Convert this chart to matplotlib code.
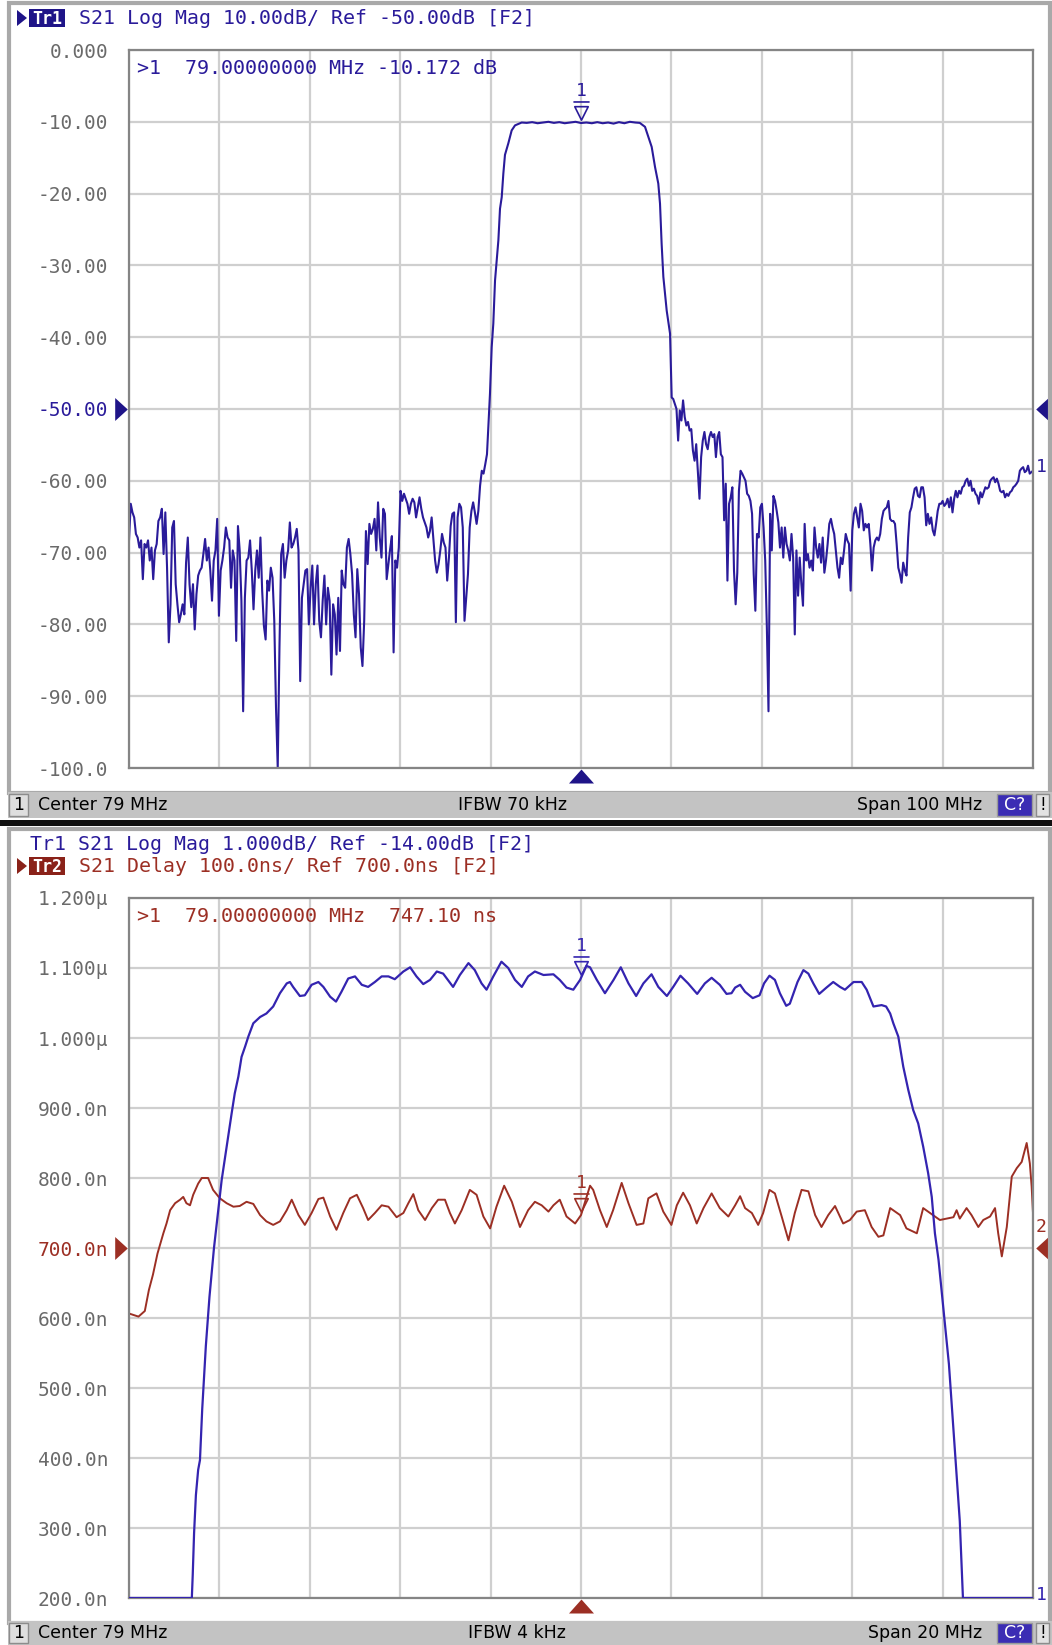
import numpy as np
import matplotlib.pyplot as plt
from matplotlib.patches import Rectangle, Polygon
from matplotlib.path import Path
from matplotlib.transforms import blended_transform_factory as blend

W, H = 1052, 1645
BLUE = '#2a1b9a'
RED = '#9c2f24'
GRID = '#cfcfcf'
LBL = '#6a6a6a'
MONO = 'DejaVu Sans Mono'
NARROW = ['Liberation Sans Narrow', 'DejaVu Sans']

# ---------------- upper panel: S21 Log Mag, center 79 MHz, span 100 MHz
top_lo_stop_db = [
    -68.3, -63.2, -64.4, -65.1, -67.4, -67.9, -69.3, -68.3, -73.7, -68.8,
    -69.3, -68.3, -71.1, -69.3, -73.7, -69.7, -68.8, -65.6, -65.1, -63.9,
    -70.2, -64.4, -72.1, -82.5, -77.2, -66.5, -65.6, -74.4, -77.2, -79.7,
    -78.6, -77.2, -78.6, -71.4, -67.9, -74.4, -77.6, -74.4, -80.7, -75.8,
    -73.2, -72.5, -72.1, -70.2, -68.1, -71.1, -69.3, -72.5, -76.7, -71.1,
    -69.7, -65.3, -78.8, -72.5, -71.1, -69.3, -66.5, -67.9, -68.3, -74.9,
    -69.7, -71.1, -82.3, -66.3, -69.7, -76.7, -92.1, -76.3, -71.1, -70.7,
    -68.3, -72.5, -77.9, -72.5, -69.7, -73.5, -67.9, -75.3, -80.2, -82.1,
    -73.9, -75.3, -72.1, -73.5, -79.5, -91.6, -100.0, -83.2, -70.2, -68.8,
    -73.5, -71.1, -69.7, -65.8, -69.3, -68.8, -67.9, -66.7, -69.7, -87.9,
    -76.3, -74.4, -72.5, -72.3, -80.0, -74.9, -71.8, -80.0, -74.4, -71.8,
    -79.5, -81.8, -76.7, -73.2, -80.0, -74.9, -76.7, -87.0, -77.2, -78.6,
    -84.2, -76.3, -83.7, -72.5, -74.4, -74.9, -69.3, -68.1, -70.2, -73.0,
    -78.6, -81.8, -72.3, -75.8, -83.2, -85.8, -79.5, -67.0, -71.6, -66.0,
    -67.4, -66.7, -65.3, -69.7, -63.0, -67.9, -70.7, -63.9, -64.6, -73.7,
    -71.6, -69.5, -67.7, -83.9, -71.1, -72.1, -69.3, -61.4, -62.8, -61.8,
    -62.5, -63.2, -64.6, -63.2, -62.5, -63.0, -65.1, -63.7, -62.3, -63.9,
    -65.1, -65.8, -66.5, -67.9, -67.0, -65.1, -68.1, -71.1, -72.8, -71.6,
    -69.7, -67.4, -68.6, -69.3, -73.9, -70.7, -66.3, -64.6, -64.4, -79.7,
    -65.1, -63.2, -63.7, -66.5, -79.5, -76.3, -73.0, -66.5, -64.2, -63.0,
    -64.4, -66.0, -64.2, -60.7, -58.6, -59.0, -57.7, -56.3]
top_lo_stop_f = np.linspace(29.0, 68.6, len(top_lo_stop_db))

top_pass = [
    (68.93, -47.9), (69.12, -41.4), (69.30, -38.1), (69.49, -32.1), (69.86, -26.5),
    (70.04, -22.1), (70.23, -20.5), (70.41, -17.2), (70.59, -14.6), (70.96, -13.0),
    (71.33, -11.2), (71.70, -10.5), (72.44, -10.1), (73.0, -10.15), (73.6, -10.05),
    (74.2, -10.2), (74.8, -10.1), (75.4, -10.0), (76.0, -10.15), (76.6, -10.05),
    (77.2, -10.2), (77.8, -10.1), (78.4, -10.0), (79.0, -10.17), (79.6, -10.1),
    (80.2, -10.2), (80.8, -10.05), (81.4, -10.2), (82.0, -10.1), (82.6, -10.25),
    (83.2, -10.05), (83.8, -10.2), (84.4, -10.0), (85.0, -10.1), (85.5, -10.15),
    (86.08, -10.7), (86.45, -12.1), (86.82, -13.5), (87.19, -16.3), (87.55, -18.6),
    (87.74, -21.4), (87.92, -27.0), (88.11, -31.6), (88.48, -36.3), (88.85, -39.5),
    (89.03, -48.4)]

top_hi_stop_db = [
    -48.6, -49.3, -50.0, -54.4, -50.2, -51.6, -48.8, -51.1, -52.3, -51.8,
    -53.0, -52.8, -55.8, -57.2, -54.9, -58.6, -62.5, -56.7, -54.4, -53.2,
    -54.9, -55.6, -53.9, -53.2, -53.9, -53.5, -56.7, -53.9, -53.2, -56.3,
    -56.7, -65.5, -60.4, -73.9, -63.2, -62.3, -60.9, -72.5, -77.2, -72.8,
    -61.4, -58.6, -59.0, -59.5, -60.0, -61.8, -62.1, -62.8, -64.6, -73.0,
    -78.1, -67.4, -67.9, -63.7, -63.2, -66.5, -71.1, -80.4, -92.1, -64.6,
    -69.7, -62.1, -62.8, -64.2, -65.8, -69.3, -66.5, -70.7, -66.5, -68.8,
    -69.7, -71.1, -67.4, -70.7, -81.4, -69.7, -76.0, -70.7, -74.4, -77.4,
    -66.0, -71.1, -70.2, -72.1, -71.1, -72.5, -66.5, -69.3, -70.7, -68.8,
    -71.4, -67.9, -72.8, -71.1, -68.8, -66.0, -65.3, -66.5, -67.4, -69.7,
    -72.1, -73.5, -70.7, -71.6, -69.7, -67.4, -68.3, -68.8, -75.3, -66.9,
    -64.6, -63.7, -65.1, -66.5, -63.2, -64.2, -66.9, -66.0, -66.5, -66.0,
    -68.8, -72.5, -69.3, -68.3, -67.9, -68.3, -67.4, -65.3, -64.2, -63.9,
    -63.7, -62.8, -65.3, -65.6, -65.6, -66.0, -68.8, -72.1, -73.0, -74.2,
    -71.4, -72.5, -73.2, -67.9, -64.4, -63.7, -62.3, -61.1, -60.9, -62.1,
    -62.3, -60.9, -60.9, -62.3, -66.2, -64.6, -66.0, -65.1, -66.9, -67.6,
    -66.0, -64.2, -63.2, -63.2, -62.8, -63.5, -63.2, -62.5, -63.7, -62.3,
    -64.4, -62.5, -61.4, -62.3, -61.4, -61.8, -60.9, -60.7, -60.0, -59.7,
    -60.7, -60.0, -61.4, -61.1, -61.8, -62.1, -63.2, -61.6, -62.3, -61.6,
    -60.9, -61.1, -60.9, -60.0, -59.7, -59.5, -60.2, -59.7, -60.4, -61.4,
    -61.6, -61.4, -62.3, -61.8, -62.1, -61.6, -61.4, -60.9, -60.7, -60.4,
    -60.0, -58.6, -58.3, -58.1, -58.8, -58.6, -57.9, -59.0, -58.8, -58.6]
top_hi_stop_f = np.linspace(89.2, 129.0, len(top_hi_stop_db))

top_yticks = [-100, -90, -80, -70, -60, -50, -40, -30, -20, -10, 0]
top_ylabels = ['-100.0', '-90.00', '-80.00', '-70.00', '-60.00', '-50.00',
               '-40.00', '-30.00', '-20.00', '-10.00', '0.000']

# ---------------- lower panel: Tr1 log mag (1 dB/div) + Tr2 delay (100 ns/div), span 20 MHz
bot_mag = [
    (69.0, -19.0), (70.39, -19.0), (70.41, -18.67), (70.44, -18.07), (70.48, -17.53),
    (70.53, -17.17), (70.57, -17.03), (70.62, -16.3), (70.70, -15.4), (70.78, -14.7),
    (70.88, -14.0), (71.05, -13.03), (71.16, -12.55), (71.27, -12.08), (71.34, -11.79),
    (71.42, -11.55), (71.49, -11.27), (71.57, -11.12), (71.64, -10.98), (71.75, -10.79),
    (71.90, -10.70), (72.04, -10.65), (72.19, -10.55), (72.34, -10.36), (72.49, -10.22),
    (72.56, -10.20), (72.63, -10.27), (72.78, -10.40), (72.89, -10.39), (73.04, -10.24),
    (73.19, -10.20), (73.30, -10.27), (73.45, -10.41), (73.58, -10.48), (73.70, -10.34),
    (73.85, -10.15), (74.00, -10.12), (74.15, -10.24), (74.29, -10.27), (74.44, -10.20),
    (74.59, -10.12), (74.74, -10.12), (74.88, -10.16), (75.07, -10.05), (75.22, -9.99),
    (75.36, -10.12), (75.51, -10.23), (75.66, -10.17), (75.81, -10.05), (75.95, -10.08),
    (76.17, -10.27), (76.32, -10.10), (76.51, -9.93), (76.65, -10.03), (76.80, -10.22),
    (76.91, -10.31), (77.06, -10.12), (77.24, -9.91), (77.39, -10.00), (77.54, -10.17),
    (77.69, -10.27), (77.83, -10.12), (77.98, -10.05), (78.17, -10.10), (78.39, -10.09),
    (78.53, -10.17), (78.68, -10.28), (78.83, -10.31), (78.98, -10.17), (79.12, -9.97),
    (79.20, -9.99), (79.35, -10.17), (79.53, -10.36), (79.72, -10.17), (79.88, -9.99),
    (80.05, -10.22), (80.22, -10.40), (80.38, -10.22), (80.56, -10.09), (80.71, -10.27),
    (80.90, -10.40), (81.04, -10.27), (81.20, -10.11), (81.37, -10.22), (81.57, -10.37),
    (81.74, -10.22), (81.89, -10.14), (82.07, -10.24), (82.22, -10.37), (82.33, -10.36),
    (82.41, -10.28), (82.52, -10.24), (82.63, -10.34), (82.80, -10.43), (82.95, -10.39),
    (83.05, -10.22), (83.17, -10.11), (83.29, -10.17), (83.40, -10.36), (83.54, -10.54),
    (83.62, -10.51), (83.79, -10.20), (83.92, -10.03), (84.03, -10.08), (84.14, -10.22),
    (84.27, -10.37), (84.43, -10.28), (84.58, -10.20), (84.73, -10.27), (84.84, -10.31),
    (85.03, -10.20), (85.21, -10.20), (85.32, -10.31), (85.47, -10.55), (85.65, -10.53),
    (85.75, -10.55), (85.84, -10.65), (85.91, -10.79), (86.02, -10.98), (86.13, -11.41),
    (86.24, -11.74), (86.35, -12.03), (86.46, -12.22), (86.57, -12.55), (86.68, -12.93),
    (86.76, -13.27), (86.83, -13.79), (86.91, -14.17), (87.14, -15.66), (87.38, -17.9),
    (87.45, -19.0), (89.0, -19.0)]

bot_delay = [
    (69.02, 606), (69.21, 602), (69.35, 610), (69.44, 640), (69.53, 662), (69.63, 692),
    (69.76, 721), (69.83, 735), (69.91, 754), (70.02, 764), (70.13, 769), (70.20, 773),
    (70.27, 764), (70.35, 761), (70.42, 776), (70.53, 792), (70.61, 800), (70.75, 800),
    (70.86, 783), (71.01, 771), (71.16, 764), (71.31, 759), (71.45, 760), (71.60, 766),
    (71.75, 763), (71.90, 747), (72.04, 738), (72.19, 733), (72.34, 738), (72.49, 754),
    (72.60, 769), (72.75, 747), (72.89, 733), (73.04, 750), (73.19, 770), (73.30, 772),
    (73.45, 745), (73.59, 726), (73.74, 750), (73.89, 771), (74.04, 776), (74.18, 757),
    (74.29, 740), (74.44, 750), (74.59, 761), (74.74, 759), (74.92, 744), (75.07, 750),
    (75.18, 764), (75.29, 777), (75.40, 754), (75.55, 740), (75.70, 757), (75.84, 769),
    (75.99, 769), (76.10, 750), (76.21, 735), (76.36, 754), (76.54, 783), (76.69, 776),
    (76.84, 745), (76.99, 728), (77.13, 759), (77.30, 789), (77.47, 766), (77.65, 730),
    (77.83, 754), (77.98, 766), (78.13, 761), (78.28, 752), (78.39, 761), (78.53, 769),
    (78.68, 745), (78.87, 735), (79.00, 747), (79.20, 789), (79.27, 783), (79.42, 754),
    (79.57, 730), (79.71, 754), (79.90, 793), (80.05, 764), (80.23, 733), (80.38, 735),
    (80.49, 771), (80.67, 778), (80.82, 752), (81.00, 733), (81.12, 761), (81.26, 779),
    (81.41, 761), (81.56, 735), (81.71, 757), (81.89, 778), (82.07, 757), (82.26, 745),
    (82.41, 761), (82.52, 774), (82.63, 757), (82.78, 750), (82.92, 733), (83.03, 750),
    (83.17, 783), (83.29, 778), (83.44, 745), (83.59, 711), (83.73, 750), (83.88, 783),
    (84.03, 781), (84.18, 747), (84.32, 730), (84.47, 747), (84.62, 760), (84.80, 735),
    (84.95, 740), (85.10, 752), (85.28, 754), (85.43, 730), (85.58, 716), (85.69, 718),
    (85.84, 757), (86.06, 747), (86.20, 728), (86.43, 721), (86.57, 757), (86.68, 752),
    (86.79, 747), (86.94, 740), (87.09, 742), (87.24, 744), (87.31, 754), (87.38, 742),
    (87.53, 757), (87.64, 747), (87.79, 730), (87.90, 740), (88.05, 745), (88.16, 757),
    (88.23, 721), (88.31, 688), (88.42, 730), (88.53, 802), (88.64, 814), (88.75, 823),
    (88.86, 850), (88.93, 821), (88.97, 788), (89.00, 750)]

bot_yticks = [200, 300, 400, 500, 600, 700, 800, 900, 1000, 1100, 1200]
bot_ylabels = ['200.0n', '300.0n', '400.0n', '500.0n', '600.0n', '700.0n',
               '800.0n', '900.0n', '1.000\u00b5', '1.100\u00b5', '1.200\u00b5']

top_header = 'S21 Log Mag 10.00dB/ Ref -50.00dB [F2]'
bot_header1 = 'Tr1 S21 Log Mag 1.000dB/ Ref -14.00dB [F2]'
bot_header2 = 'S21 Delay 100.0ns/ Ref 700.0ns [F2]'
top_readout = '>1  79.00000000 MHz -10.172 dB'
bot_readout = '>1  79.00000000 MHz  747.10 ns'
top_status = ['Center 79 MHz', 'IFBW 70 kHz', 'Span 100 MHz']
bot_status = ['Center 79 MHz', 'IFBW 4 kHz', 'Span 20 MHz']

# marker symbol: hollow down triangle with a bar above, tip at the data point
mk_path = Path([(0, 0.25), (-0.5, 1.25), (0.5, 1.25), (0, 0.25), (-0.6, 1.6), (0.6, 1.6)],
               [Path.MOVETO, Path.LINETO, Path.LINETO, Path.CLOSEPOLY, Path.MOVETO, Path.LINETO])
# reference-level and center arrows
right_tri = [(-0.55, -1), (-0.55, 1), (0.55, 0)]
left_tri = [(0.55, -1), (0.55, 1), (-0.55, 0)]
up_tri = [(-1, -0.56), (1, -0.56), (0, 0.56)]

fig = plt.figure(figsize=(W / 100, H / 100), dpi=100)
axT = fig.add_axes([129 / W, 1 - 768 / H, 904 / W, 718 / H])
axB = fig.add_axes([129 / W, 1 - 1598 / H, 904 / W, 700 / H])
axB1 = axB.twinx()


def style(ax, xlim, yticks, ylabels, refcol, refval):
    ax.set_xlim(*xlim)
    ax.set_xticks(np.linspace(xlim[0], xlim[1], 11))
    ax.set_xticklabels([])
    ax.set_ylim(yticks[0], yticks[-1])
    ax.set_yticks(yticks)
    ax.set_yticklabels(ylabels, fontsize=14, color=LBL, family=MONO)
    for t, v in zip(ax.get_yticklabels(), yticks):
        if v == refval:
            t.set_color(refcol)
    ax.tick_params(length=0, pad=15)
    ax.grid(True, color=GRID, lw=1.6)
    ax.set_axisbelow(True)
    for s in ax.spines.values():
        s.set_color('#858585')
        s.set_linewidth(1.6)


def marker(ax, x, y, col):
    ax.plot([x], [y], marker=mk_path, ms=31, mfc='none', mec=col, mew=1.2, clip_on=False)
    ax.annotate('1', xy=(x, y), xytext=(0, 23), textcoords='offset points', ha='center',
                va='center', color=col, fontsize=13, family=MONO, annotation_clip=False)


def ref_arrows(ax, yval, col):
    tr = blend(ax.transAxes, ax.transData)
    ax.plot([-0.0085], [yval], marker=right_tri, ms=16.5, color=col, mew=0, transform=tr, clip_on=False)
    ax.plot([1.0105], [yval], marker=left_tri, ms=16.5, color=col, mew=0, transform=tr, clip_on=False)


def center_arrow(ax, xval, col):
    tr = blend(ax.transData, ax.transAxes)
    ax.plot([xval], [-0.011], marker=up_tri, ms=18, color=col, mew=0, transform=tr, clip_on=False)


# ---- upper panel
style(axT, (29, 129), top_yticks, top_ylabels, BLUE, -50)
pf, pdb = zip(*top_pass)
top_f = np.concatenate([top_lo_stop_f, pf, top_hi_stop_f])
top_db = np.concatenate([top_lo_stop_db, pdb, top_hi_stop_db])
axT.plot(top_f, top_db, color=BLUE, lw=1.5)
marker(axT, 79, np.interp(79, top_f, top_db), BLUE)
axT.annotate('1', xy=(top_f[-1], top_db[-1]), xytext=(2, 3), textcoords='offset points',
             ha='left', va='center', color=BLUE, fontsize=13, family=MONO, annotation_clip=False)
ref_arrows(axT, -50, '#1f1488')
center_arrow(axT, 79, '#1f1488')

# ---- lower panel
style(axB, (69, 89), bot_yticks, bot_ylabels, RED, 700)
df, dns = zip(*bot_delay)
axB.plot(df, dns, color=RED, lw=1.4)
mf, mdb = zip(*bot_mag)
axB1.set_ylim(-19, -9)
axB1.set_yticks([])
for s in axB1.spines.values():
    s.set_visible(False)
axB1.plot(mf, mdb, color='#3424b0', lw=1.6)
marker(axB1, 79, np.interp(79, mf, mdb), '#3424b0')
marker(axB, 79, 747.1, RED)
axB1.annotate('1', xy=(89, -19), xytext=(2, 2), textcoords='offset points', ha='left',
              va='center', color='#3424b0', fontsize=13, family=MONO, annotation_clip=False)
axB.annotate('2', xy=(89, 750), xytext=(2, -10), textcoords='offset points', ha='left',
             va='center', color=RED, fontsize=13, family=MONO, annotation_clip=False)
ref_arrows(axB, 700, RED)
center_arrow(axB, 79, RED)

# ---- frames, headers, status bars (pixel overlay)
ov = fig.add_axes([0, 0, 1, 1], zorder=10)
ov.set_xlim(0, W)
ov.set_ylim(H, 0)
ov.axis('off')
ov.patch.set_alpha(0)

ov.add_patch(Rectangle((9, 3), 1041, 790, fc='none', ec='#a9a9a9', lw=3))
ov.add_patch(Rectangle((9, 829), 1041, 794, fc='none', ec='#a9a9a9', lw=3))
ov.add_patch(Rectangle((0, 820), W, 6, fc='#111111', ec='none'))


def trace_tag(x, y, name, col):
    ov.add_patch(Polygon([(x, y - 8), (x, y + 8), (x + 10, y)], fc=col, ec='none'))
    ov.add_patch(Rectangle((x + 12, y - 9), 36, 18, fc=col, ec='none'))
    ov.text(x + 30, y + 0.5, name, color='white', fontsize=12, fontweight='bold',
            family=MONO, ha='center', va='center')


trace_tag(17, 18, 'Tr1', '#1f1488')
ov.text(79, 18, top_header, color=BLUE, fontsize=14.3, family=MONO, va='center')
ov.text(30, 845, bot_header1, color=BLUE, fontsize=14.3, family=MONO, va='center')
trace_tag(17, 866, 'Tr2', '#8a2219')
ov.text(79, 866, bot_header2, color=RED, fontsize=14.3, family=MONO, va='center')
ov.text(137, 68, top_readout, color=BLUE, fontsize=14.4, family=MONO, va='center')
ov.text(137, 916, bot_readout, color=RED, fontsize=14.4, family=MONO, va='center')


def status_bar(y0, y1, items, cx):
    h = y1 - y0
    yc = (y0 + y1) / 2
    ov.add_patch(Rectangle((8, y0), 1044, h, fc='#c3c3c3', ec='none'))
    ov.add_patch(Rectangle((9, y0 + 2), 19, h - 4, fc='#dedede', ec='#8c8c8c', lw=1))
    ov.text(18.5, yc, '1', fontsize=12.5, family=NARROW, ha='center', va='center')
    ov.text(38, yc, items[0], fontsize=12.5, family=NARROW, ha='left', va='center')
    ov.text(cx, yc, items[1], fontsize=12.5, family=NARROW, ha='center', va='center')
    ov.text(982, yc, items[2], fontsize=12.5, family=NARROW, ha='right', va='center')
    ov.add_patch(Rectangle((997, y0 + 2), 35, h - 4, fc='#3b2db4', ec='#9a9a9a', lw=1))
    ov.text(1014.5, yc, 'C?', color='white', fontsize=12.5, family=NARROW, ha='center', va='center')
    ov.add_patch(Rectangle((1036, y0 + 2), 13, h - 4, fc='#e2e2e2', ec='#8c8c8c', lw=1))
    ov.text(1042.5, yc, '!', fontsize=12, family=NARROW, ha='center', va='center')


status_bar(792, 818, top_status, 512)
status_bar(1621, 1645, bot_status, 517)

fig.savefig('out.png', dpi=100)
